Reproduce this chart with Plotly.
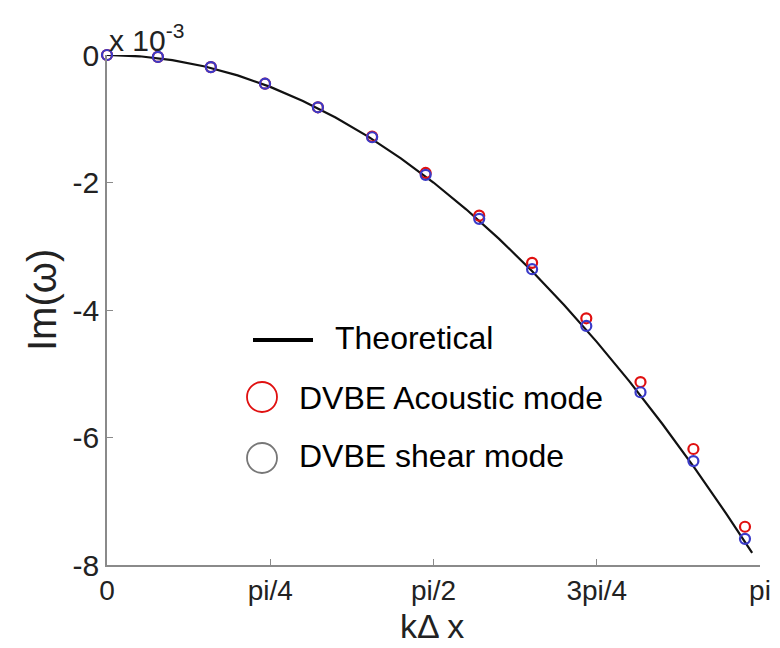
import numpy as np
import plotly.graph_objects as go

PI = np.pi
# k*dx in units of pi for the simulation points
k_pts = [0.0, 0.078, 0.159, 0.242, 0.323, 0.406, 0.488, 0.570, 0.651, 0.734, 0.817, 0.898, 0.977]
acoustic = [0.0, -0.03, -0.19, -0.45, -0.82, -1.28, -1.85, -2.52, -3.26, -4.13, -5.13, -6.18, -7.40]
shear = [0.0, -0.03, -0.19, -0.45, -0.82, -1.29, -1.88, -2.57, -3.36, -4.25, -5.29, -6.37, -7.59]

# theoretical curve (k in units of pi)
k_th = [0.0, 0.05, 0.10, 0.15, 0.20, 0.25, 0.30, 0.35, 0.40, 0.45, 0.50, 0.55,
        0.60, 0.65, 0.70, 0.75, 0.80, 0.85, 0.90, 0.95, 0.988]
theory = [0.0, -0.02, -0.08, -0.18, -0.32, -0.50, -0.72, -0.98, -1.28, -1.62, -2.00, -2.42,
          -2.88, -3.38, -3.92, -4.50, -5.12, -5.78, -6.48, -7.22, -7.81]

tick_vals = [0, 0.25, 0.5, 0.75, 1.0]
tick_text = ["0", "pi/4", "pi/2", "3pi/4", "pi"]
y_ticks = [0, -2, -4, -6, -8]

FONT = "Liberation Sans, Arial, sans-serif"
RED = "#e01010"
BLUE = "#3a3ac8"

fig = go.Figure()
fig.add_trace(go.Scatter(x=[k * PI for k in k_th], y=theory, mode="lines",
                         line=dict(color="#111111", width=2.2), showlegend=False,
                         cliponaxis=False))
fig.add_trace(go.Scatter(x=[k * PI for k in k_pts], y=acoustic, mode="markers",
                         marker=dict(symbol="circle-open", size=10, color=RED,
                                     line=dict(width=2.2, color=RED)),
                         showlegend=False, cliponaxis=False))
fig.add_trace(go.Scatter(x=[k * PI for k in k_pts], y=shear, mode="markers",
                         marker=dict(symbol="circle-open", size=10, color=BLUE,
                                     line=dict(width=2.2, color=BLUE)),
                         showlegend=False, cliponaxis=False))

axis_common = dict(showgrid=False, zeroline=False, showline=True, linecolor="#8a8a8a",
                   linewidth=1.5, ticks="inside", ticklen=6, tickcolor="#8a8a8a",
                   mirror=False, automargin=False)

fig.update_layout(
    width=780, height=648,
    margin=dict(l=107, r=20, t=55, b=83),
    paper_bgcolor="white", plot_bgcolor="white",
    xaxis=dict(range=[0, PI], tickvals=[t * PI for t in tick_vals], ticktext=tick_text,
               tickfont=dict(family=FONT, size=28, color="#222222"), **axis_common),
    yaxis=dict(range=[-8, 0], tickvals=y_ticks, ticktext=[str(v) for v in y_ticks],
               tickfont=dict(family=FONT, size=30, color="#222222"), **axis_common),
    showlegend=False,
)

# pixel -> paper conversion
def px(x):
    return (x - 107) / (760 - 107)

def py(y):
    return (565 - y) / (565 - 55)

# axis titles
fig.add_annotation(xref="paper", yref="paper", x=px(432), y=py(647), xanchor="center",
                   yanchor="bottom", text="kΔ x", showarrow=False,
                   font=dict(family=FONT, size=34, color="#222222"))
fig.add_annotation(xref="paper", yref="paper", x=px(42), y=py(300), xanchor="center",
                   yanchor="middle", text="Im(ω)", showarrow=False, textangle=-90,
                   font=dict(family=FONT, size=40, color="#222222"))

# exponent label
fig.add_annotation(xref="paper", yref="paper", x=0.0, y=1.0, xanchor="left", yanchor="bottom",
                   text="x 10<sup>-3</sup>", showarrow=False,
                   font=dict(family=FONT, size=30, color="#222222"), yshift=-4)

# manual legend
fig.add_shape(type="line", xref="paper", yref="paper", x0=px(253), x1=px(313),
              y0=py(340), y1=py(340), line=dict(color="black", width=4))
fig.add_shape(type="circle", xref="paper", yref="paper", x0=px(247), x1=px(277),
              y0=py(412), y1=py(382), line=dict(color=RED, width=1.8))
fig.add_shape(type="circle", xref="paper", yref="paper", x0=px(247), x1=px(277),
              y0=py(473), y1=py(443), line=dict(color="#777777", width=1.8))
for text, y, x in [("Theoretical", 338, 333), ("DVBE Acoustic mode", 398, 297),
                   ("DVBE shear mode", 456, 297)]:
    fig.add_annotation(xref="paper", yref="paper", x=px(x), y=py(y), xanchor="left",
                       yanchor="middle", text=text, showarrow=False,
                       font=dict(family=FONT, size=32, color="black"))

fig.write_html("out.html")
